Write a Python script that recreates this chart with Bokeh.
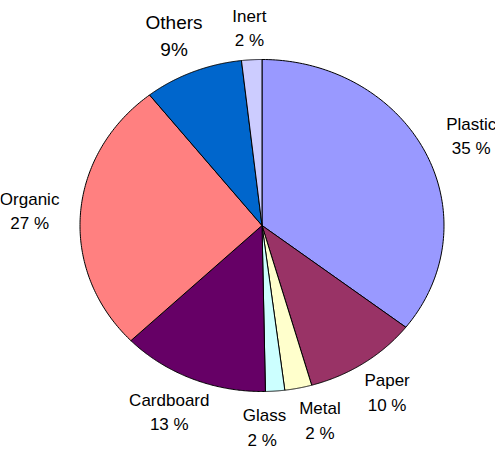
import numpy as np
from bokeh.plotting import figure
from bokeh.models import ColumnDataSource, Range1d
from bokeh.core.properties import value
from bokeh.embed import file_html
from bokeh.resources import INLINE

# ---- data ----
categories = ["Plastic", "Paper", "Metal", "Glass", "Cardboard", "Organic", "Others", "Inert"]
shares = [35.5, 10.1, 2.4, 1.7, 13.1, 26.6, 8.8, 1.8]
pct_labels = ["35 %", "10 %", "2 %", "2  %", "13 %", "27 %", "9%", "2 %"]

# ---- styles ----
colors = ["#9999FF", "#993366", "#FFFFCC", "#CCFFFF", "#660066", "#FF8080", "#0066CC", "#CCCCFF"]
label_px = [17, 17, 17, 17, 17, 17, 19, 17]

W, H = 495, 453
CX, CY = 261.5, 225          # pie centre in page pixels
RX, RY = 182, 166            # pie radii (slightly elliptical)
LABEL_K = 1.1                # label anchor distance factor
LINE_H = 1.3
TOP_MARGIN = 8

total = float(sum(shares))
spans = [s / total * 360.0 for s in shares]
starts = 90.0 - np.concatenate([[0.0], np.cumsum(spans)[:-1]])
ends = starts - np.array(spans)

xs, ys = [], []
for a0, a1 in zip(starts, ends):
    t = np.radians(np.linspace(a0, a1, 120))
    xs.append([0.0] + list(RX * np.cos(t)) + [0.0])
    ys.append([0.0] + list(RY * np.sin(t)) + [0.0])

# ---- label placement: outside anchor + box offset, then spread overlapping boxes ----
texts = [f"{c}\n{p}" for c, p in zip(categories, pct_labels)]
bw = np.array([0.55 * s * max(len(c), len(p)) for s, c, p in zip(label_px, categories, pct_labels)])
bh = np.array([2 * LINE_H * s * 0.9 for s in label_px])
ang = np.radians((starts + ends) / 2.0)

def positions(a):
    x = LABEL_K * RX * np.cos(a) + np.cos(a) * bw / 2
    y = LABEL_K * RY * np.sin(a) + np.sin(a) * bh / 2
    ymax = CY - TOP_MARGIN - bh / 2
    return x, np.minimum(y, ymax)

step = np.radians(0.25)
for _ in range(400):
    x, y = positions(ang)
    moved = False
    n = len(ang)
    for i in range(n):
        for j in range(i + 1, n):
            if abs(x[i] - x[j]) < (bw[i] + bw[j]) / 2 + 8 and abs(y[i] - y[j]) < (bh[i] + bh[j]) / 2:
                if ang[i] > ang[j]:
                    ang[i] += step; ang[j] -= step
                else:
                    ang[i] -= step; ang[j] += step
                moved = True
    if not moved:
        break
lx, ly = positions(ang)

pie_src = ColumnDataSource(dict(xs=xs, ys=ys, color=colors, cat=categories))
lab_src = ColumnDataSource(dict(x=lx, y=ly, text=texts, size=[f"{s}px" for s in label_px]))

p = figure(width=W, height=H, output_backend="svg", toolbar_location=None,
           x_range=Range1d(-CX, W - CX), y_range=Range1d(-(H - CY), CY),
           x_axis_location=None, y_axis_location=None, min_border=0,
           background_fill_color="white", border_fill_color="white")
p.outline_line_color = None
p.grid.visible = False

p.patches("xs", "ys", source=pie_src, fill_color="color", line_color="black", line_width=1)
p.text("x", "y", text="text", source=lab_src, text_font=value("Liberation Sans"),
       text_font_size="size", text_align="center", text_baseline="middle",
       text_line_height=LINE_H, text_color="black")

open("out.html", "w").write(file_html(p, INLINE))
